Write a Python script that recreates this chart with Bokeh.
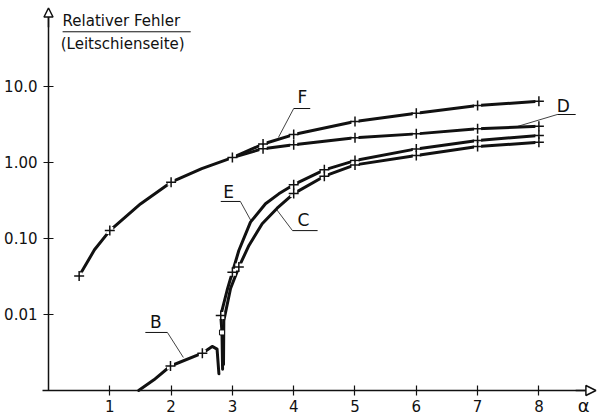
from bokeh.plotting import figure
from bokeh.models import Range1d, FixedTicker, Arrow, NormalHead
from bokeh.core.properties import value
from bokeh.embed import file_html
from bokeh.resources import INLINE

# ---- data ----
X_TICKS = [1, 2, 3, 4, 5, 6, 7, 8]
Y_TICKS = [0.01, 0.1, 1.0, 10.0]
Y_TICK_LABELS = ["0.01", "0.10", "1.00", "10.0"]

# F: common lower branch and upper branch
F_x = [0.5, 0.75, 1.0, 1.5, 2.0, 2.5, 3.0, 3.5, 4.0, 5.0, 6.0, 7.0, 8.0]
F_y = [0.032, 0.071, 0.127, 0.285, 0.55, 0.83, 1.16, 1.75, 2.33, 3.46, 4.45, 5.62, 6.4]
F_marks = [0.5, 1.0, 2.0, 3.0, 3.5, 4.0, 5.0, 6.0, 7.0, 8.0]

# D: branches off F at x = 3
D_x = [3.0, 3.5, 4.0, 5.0, 6.0, 7.0, 8.0]
D_y = [1.16, 1.52, 1.71, 2.11, 2.38, 2.77, 3.0]
D_marks = [3.5, 4.0, 5.0, 6.0, 7.0, 8.0]

# E
E_x = [2.84, 2.83, 2.81, 2.915, 3.0, 3.105, 3.295, 3.54, 3.757, 4.0, 4.5, 5.0, 6.0, 7.0, 8.0]
E_y = [0.0019, 0.0058, 0.0097, 0.021, 0.036, 0.0695, 0.164, 0.286, 0.387, 0.51, 0.80, 1.06, 1.51, 1.95, 2.27]
E_marks = [2.81, 3.0, 4.0, 4.5, 5.0, 6.0, 7.0, 8.0]

# C
C_x = [2.855, 2.86, 2.97, 3.105, 3.27, 3.486, 3.73, 4.0, 4.5, 5.0, 6.0, 7.0, 8.0]
C_y = [0.0022, 0.0083, 0.022, 0.042, 0.081, 0.156, 0.25, 0.39, 0.66, 0.93, 1.24, 1.62, 1.85]
C_marks = [3.105, 4.0, 4.5, 5.0, 6.0, 7.0, 8.0]

# B
B_x = [1.47, 1.72, 1.99, 2.51, 2.67, 2.75, 2.78]
B_y = [0.001, 0.00138, 0.0021, 0.0031, 0.0038, 0.0035, 0.00166]
B_marks = [1.99, 2.51]

CURVE_NAMES = ["F", "D", "E", "C", "B"]


def pick(xs, ys, marks):
    lut = dict(zip(xs, ys))
    return marks, [lut[m] for m in marks]


INK = "#111111"
FONT = value("DejaVu Sans")

p = figure(width=597, height=417,
           x_range=Range1d(-0.783, 8.956), y_range=Range1d(0.000441, 135.4),
           y_axis_type="log", output_backend="svg", toolbar_location=None,
           min_border=0, min_border_left=0, min_border_right=0,
           min_border_top=0, min_border_bottom=0)
p.outline_line_color = None
p.xgrid.visible = False
p.ygrid.visible = False
p.background_fill_color = "white"

# axes placed at data locations
p.xaxis.fixed_location = 0.001
p.yaxis.fixed_location = 0
p.xaxis.ticker = FixedTicker(ticks=X_TICKS, minor_ticks=[])
p.yaxis.ticker = FixedTicker(ticks=Y_TICKS, minor_ticks=[])
p.yaxis.major_label_overrides = {t: l for t, l in zip(Y_TICKS, Y_TICK_LABELS)}
p.xaxis.bounds = (-0.1, 8.8)
p.yaxis.bounds = (0.001, 100)
for ax in (p.xaxis, p.yaxis):
    ax.axis_line_width = 1.5
    ax.axis_line_color = INK
    ax.major_tick_in = 5
    ax.major_tick_out = 5
    ax.major_tick_line_color = INK
    ax.major_tick_line_width = 1.2
    ax.minor_tick_line_color = None
    ax.major_label_text_font = "DejaVu Sans"
    ax.major_label_text_font_size = "15px"
    ax.major_label_text_color = INK
p.xaxis.major_label_standoff = 5
p.yaxis.major_label_standoff = 6

# arrow heads
p.add_layout(Arrow(end=NormalHead(size=10, fill_color="white", line_color=INK, line_width=1.5),
                   x_start=8.6, y_start=0.001, x_end=8.93, y_end=0.001,
                   line_width=1.5, line_color=INK))
p.add_layout(Arrow(end=NormalHead(size=9, fill_color="white", line_color=INK, line_width=1.5),
                   x_start=0, y_start=60, x_end=0, y_end=108,
                   line_width=1.5, line_color=INK))

# curves
for xs, ys in ((F_x, F_y), (D_x, D_y), (E_x, E_y), (C_x, C_y), (B_x, B_y)):
    p.line(xs, ys, line_width=3, line_color=INK, line_join="round", line_cap="round")

# marker gaps and crosses
for xs, ys, mk in ((F_x, F_y, F_marks), (D_x, D_y, D_marks), (E_x, E_y, E_marks),
                   (C_x, C_y, C_marks), (B_x, B_y, B_marks)):
    mx, my = pick(xs, ys, mk)
    p.scatter(mx, my, marker="square", size=7, fill_color="white", line_color=None)
    p.scatter(mx, my, marker="cross", size=10, line_width=1.5, line_color=INK)

# small hollow rectangle on E near its foot
p.scatter([E_x[1]], [E_y[1]], marker="square", size=5, fill_color="white",
          line_color=INK, line_width=1)

# curve labels with underline and leader line
lab_x = [4.14, 8.40, 2.94, 4.16, 1.75]
lab_y = [7.17, 5.62, 0.403, 0.173, 0.00785]
p.text(lab_x, lab_y, text=CURVE_NAMES, text_font=FONT, text_font_size="17px",
       text_align="center", text_baseline="middle", text_color=INK)
ul_x0 = [4.0, 8.30, 2.81, 3.98, 1.58]
ul_x1 = [4.27, 8.60, 3.13, 4.39, 1.94]
ul_y = [5.13, 4.28, 0.307, 0.127, 0.0058]
p.segment(ul_x0, ul_y, ul_x1, ul_y, line_width=1, line_color=INK)
ld_x0 = [4.0, 8.30, 3.13, 3.98, 1.94]
ld_x1 = [3.75, 7.65, 3.30, 3.72, 2.20]
ld_y1 = [2.13, 2.98, 0.173, 0.241, 0.00272]
p.segment(ld_x0, ul_y, ld_x1, ld_y1, line_width=0.8, line_color=INK)

# axis titles
p.text([0.23], [73.8], text=["Relativer Fehler"], text_font=FONT, text_font_size="15px",
       text_align="left", text_baseline="middle", text_color=INK)
p.segment([0.23], [52.5], [2.32], [52.5], line_width=1, line_color=INK)
p.text([0.2], [35.7], text=["(Leitschienseite)"], text_font=FONT, text_font_size="15px",
       text_align="left", text_baseline="middle", text_color=INK)
p.text([8.73], [0.00064], text=["α"], text_font=FONT, text_font_size="18px",
       text_align="center", text_baseline="middle", text_color=INK)

open("out.html", "w").write(file_html(p, INLINE))
